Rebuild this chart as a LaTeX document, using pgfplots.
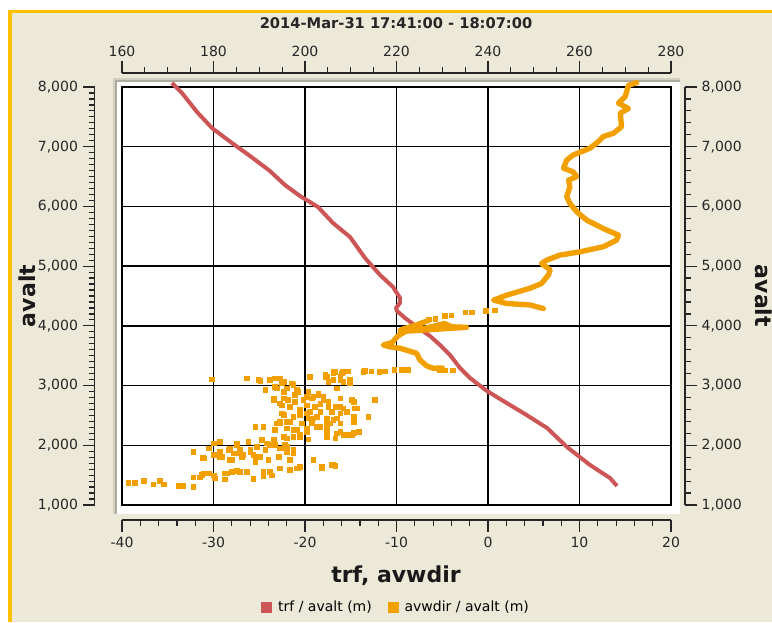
\documentclass[border=0pt]{standalone}
\usepackage{fontspec}
\setmainfont{DejaVu Sans}
\usepackage{pgfplots}
\pgfplotsset{compat=1.18}
\definecolor{bgbeige}{HTML}{ECE9D8}
\definecolor{gold}{HTML}{FFC000}
\definecolor{trfred}{HTML}{CD5555}
\definecolor{wdorange}{HTML}{F29F00}
\definecolor{framelight}{HTML}{D2CFC0}
\definecolor{framedark}{HTML}{AEAB9C}
\pgfplotsset{
  base/.style={scale only axis, anchor=south west, clip=false,
    ticklabel style={font=\fontsize{10.5}{12}\selectfont, text=black!85},
    /pgf/number format/assume math mode=true,
    /pgf/number format/1000 sep={,},
    scaled ticks=false,
    tick align=outside, major tick length=9pt, minor tick length=4.5pt,
    tick style={black!85, line width=0.9pt},
    minor tick style={black!85, line width=0.9pt},
    axis line style={black!85, line width=0.9pt}},
}
\begin{document}
\begin{tikzpicture}
\useasboundingbox (0,0) rectangle (579pt,466.5pt);
\fill[white] (0,0) rectangle (579pt,466.5pt);
\fill[bgbeige] (9pt,0) rectangle (579pt,456.75pt);
\fill[gold] (6pt,0) rectangle (9pt,459.3pt);
\fill[gold] (6pt,456.75pt) rectangle (579pt,459.3pt);
\fill[framelight] (84.75pt,81pt) rectangle (510pt,408pt);
\fill[framedark] (86.25pt,81pt) rectangle (510pt,406.5pt);
\fill[white] (87.75pt,81pt) rectangle (510pt,405pt);

% main axis: trf (bottom scale) with grid
\begin{axis}[base, width=411.75pt, height=313.5pt, at={(91.5pt,87.75pt)},
  xmin=-40, xmax=20, ymin=1000, ymax=8000,
  xtick={-40,-30,...,20}, ytick={1000,2000,...,8000},
  xticklabels={}, yticklabels={}, major tick length=0pt,
  grid=major, major grid style={black, line width=1.1pt},
  axis line style={black, line width=1.1pt}]
\addplot[trfred, line width=3pt, line join=round] coordinates {
(-34.54,8067) (-33.44,7899) (-31.80,7581) (-30.16,7313) (-27.98,7062)
(-26.01,6845) (-23.83,6593) (-22.19,6359) (-20.55,6175) (-18.58,5990)
(-16.94,5722) (-15.08,5488) (-13.44,5136) (-11.80,4852) (-10.38,4651)
(-9.62,4467) (-9.62,4383) (-10.05,4299) (-9.95,4249) (-9.07,4132)
(-7.76,3981) (-6.34,3830) (-5.25,3680) (-4.15,3512) (-3.06,3294)
(-1.97,3127) (-0.11,2909) (1.86,2725) (4.04,2524) (6.45,2290)
(8.63,1971) (11.15,1670) (13.33,1452) (14.10,1318)
};
\end{axis}

% avwdir data (top scale)
\begin{axis}[base, width=411.75pt, height=313.5pt, at={(91.5pt,87.75pt)},
  xmin=160, xmax=280, ymin=1000, ymax=8000, hide axis,
  legend columns=2,
  legend style={draw=none, fill=none, at={(0.5,-0.244)}, anchor=center,
    font=\fontsize{10.5}{12}\selectfont}]
\addlegendimage{only marks, mark=square*, mark size=3.8pt, color=trfred}
\addlegendentry{\hspace{3pt}trf / avalt (m)\hspace*{10pt}\null}
\addlegendimage{only marks, mark=square*, mark size=3.8pt, color=wdorange}
\addlegendentry{\hspace{3pt}avwdir / avalt (m)}
\addplot[forget plot, wdorange, line width=4pt, line join=round, line cap=round] coordinates {
(272.5,8072) (270.7,8030) (270.0,7840) (268.5,7730) (270.7,7640) (268.9,7560)
(269.2,7335) (267.4,7225) (265.2,7170) (264.1,7085) (262.3,6975) (258.6,6860)
(257.2,6775) (256.5,6640) (258.6,6580) (259.4,6500) (257.6,6440) (257.9,6330)
(257.2,6160) (257.9,6050) (259.4,5910) (261.6,5770) (265.2,5630) (268.5,5520)
(268.1,5435) (265.2,5325) (260.1,5240) (255.7,5185) (252.8,5100) (251.7,5045)
(253.6,4935) (253.2,4850) (251.7,4710) (249.2,4630) (244.1,4515) (241.2,4430)
(244.1,4375) (249.2,4350) (252.1,4290)
};
\addplot[forget plot, wdorange, line width=4pt, line join=round, line cap=round] coordinates {
(227.3,4100) (224.4,4015) (221.5,3950) (220.8,3925) (226,3955) (230.5,4040)
(232,3985) (235.3,3975) (229,3945) (222,3910) (220.3,3830) (219,3720)
(217.1,3680) (218.5,3650) (220.8,3625) (224.4,3540) (225.1,3430) (226.6,3330)
(228.0,3290) (230,3295)
};
\addplot[forget plot, wdorange, only marks, mark=square*, mark size=1.75pt] coordinates {
(241.5,4260) (239.5,4255) (236.5,4230) (235,4225) (232,4180) (230.5,4170)
(228.5,4120) (227,4110)
(232.3,3255) (230.5,3255) (229.5,3260) (222.5,3265) (221.2,3265) (219.5,3260)
(217.5,3240) (216.2,3235) (214.5,3240) (213,3245) (209.4,3240) (208.2,3232) (206.6,3232)
(161.4,1372) (162.8,1372) (164.7,1406) (166.8,1350) (168.3,1406) (169.2,1350)
(172.3,1322) (173.3,1322) (175.6,1305) (175.6,1462) (177.0,1462) (177.8,1530)
(178.9,1530) (180.0,1500) (180.3,1445) (182.5,1530) (182.5,1430) (185.1,1573)
(187.3,1557) (188.7,1434) (190.9,1557) (190.9,1484) (192.7,1500) (194.5,1613)
(196.7,1585) (198.5,1613) (175.6,1892) (177.6,1792) (178.9,1950) (180.0,2032)
(181.4,2060) (181.8,1808) (183.2,1920) (184.0,1752) (185.1,2004) (185.8,1920)
(186.5,1836) (187.6,2060) (188.0,1892) (189.1,1808) (189.4,1975) (190.5,2088)
(191.3,1920) (192.0,1752) (192.3,2004) (193.1,2088) (194.5,1950) (195.6,2004)
(196.0,1892) (196.7,1752) (197.4,1920) (198.2,1613) (198.9,1640) (200.7,2099)
(201.8,1752) (179.6,3104) (187.3,3120) (190.2,3080) (192.3,3092) (193.4,3120)
(194.9,3037) (191.3,2925) (193.8,2953) (195.3,2896) (197.1,3037) (198.2,2925)
(193.1,2757) (194.9,2673) (196.3,2757) (197.8,2841) (199.6,2757) (200.7,2896)
(201.1,3148) (201.8,2813) (202.9,2869) (194.9,2535) (196.0,2394) (197.4,2478)
(198.9,2590) (200.4,2535) (201.8,2450) (193.8,2366) (193.4,2255) (196.0,2115)
(198.9,2143) (200.4,2227) (189.1,2310) (190.9,2310) (197.4,2255)
(203.3,2700) (203.3,2310) (204.4,3176) (206.2,3204) (208.0,3204) (206.9,2953)
(207.7,3092) (209.8,3037) (204.7,2143) (207.7,2227) (209.5,2171) (210.6,2210)
(210.6,2394) (204.4,3149) (205.1,3065) (206.2,3093) (207.7,3149) (208.4,3065)
(209.8,3065) (204.0,2813) (205.1,2730) (206.6,2646) (207.7,2787) (208.4,2618)
(210.6,2730) (211.3,2618) (215.3,2759) (213.8,2480) (210.6,2480) (207.7,2535)
(206.2,2424) (204.7,2313) (207.7,2229) (206.6,2117) (210.2,2173) (211.7,2229)
(203.7,1642) (206.2,1670) (206.6,1660)
(187.3,3121) (189.8,3092) (194.5,3121) (195.3,3064) (193.4,2980) (196.0,2953)
(197.4,3008) (198.5,2896) (193.1,2786) (195.3,2786) (194.5,2702) (196.7,2645)
(197.8,2729) (200.4,2813) (201.5,2786) (202.9,2841) (204.0,2757) (200.4,2673)
(202.2,2645) (201.1,2563) (203.3,2563) (205.1,2645) (205.8,2563) (207.7,2786)
(207.7,2645) (209.1,2563) (206.9,2451) (204.7,2451) (202.5,2480) (200.7,2451)
(198.9,2506) (195.3,2506) (194.5,2367) (196.7,2395) (199.3,2367) (201.5,2367)
(205.5,2367) (207.7,2367) (210.6,2480) (210.9,2618) (210.2,2757) (206.2,3232)
(207.7,3092) (209.8,3092) (201.1,3148) (204.7,3148) (212.7,3232)
(177.8,1780) (180.0,1836) (181.4,1808) (183.6,1948) (185.1,2032) (185.4,1864)
(183.6,1752) (188.0,1920) (189.4,1976) (188.7,1836) (190.2,1808) (189.1,1724)
(191.6,2032) (193.4,2004) (194.9,1948) (194.2,1808) (196.0,1976) (197.4,1864)
(196.7,1752) (184.0,1557) (185.8,1557) (182.9,1530) (190.9,1530) (192.3,1557)
(177.4,1501) (203.7,1613) (205.8,1670) (194.5,2395) (196.0,2283) (198.2,2255)
(195.3,2143) (197.4,2143) (198.9,2171) (200.4,2283) (202.5,2310) (204.7,2227)
(206.9,2199) (208.4,2171) (210.6,2199) (204.7,2395) (181.4,1892) (184.3,1864)
(186.2,1808)
};
\end{axis}

% bottom tick axis (trf)
\begin{axis}[base, width=411.75pt, height=10pt, at={(91.5pt,76.5pt)},
  xmin=-40, xmax=20, ymin=0, ymax=1, axis x line*=bottom, axis y line=none,
  xtick={-40,-30,...,20}, minor x tick num=4, ytick=\empty]
\end{axis}
% top tick axis (avwdir)
\begin{axis}[base, width=411.75pt, height=10pt, at={(91.5pt,401.75pt)},
  xmin=160, xmax=280, ymin=0, ymax=1, axis x line*=top, axis y line=none,
  xtick={160,180,...,280}, minor x tick num=3, ytick=\empty]
\end{axis}
% left tick axis
\begin{axis}[base, width=10pt, height=313.5pt, at={(71pt,87.75pt)},
  xmin=0, xmax=1, ymin=1000, ymax=8000, axis y line*=left, axis x line=none,
  ytick={1000,2000,...,8000}, minor y tick num=9, xtick=\empty]
\end{axis}
% right tick axis
\begin{axis}[base, width=10pt, height=313.5pt, at={(503.75pt,87.75pt)},
  xmin=0, xmax=1, ymin=1000, ymax=8000, axis y line*=right, axis x line=none,
  ytick={1000,2000,...,8000}, minor y tick num=4, xtick=\empty]
\end{axis}

\node[font=\bfseries\fontsize{11}{13}\selectfont, text=black!85] at (297pt,449.5pt) {2014-Mar-31 17:41:00 - 18:07:00};
\node[font=\bfseries\fontsize{16.5}{19}\selectfont, text=black!90] at (297pt,34.5pt) {trf, avwdir};
\node[font=\bfseries\fontsize{16.5}{19}\selectfont, text=black!90, rotate=90] at (20.6pt,244.5pt) {avalt};
\node[font=\bfseries\fontsize{16.5}{19}\selectfont, text=black!90, rotate=-90] at (572.5pt,244.5pt) {avalt};
\end{tikzpicture}
\end{document}
